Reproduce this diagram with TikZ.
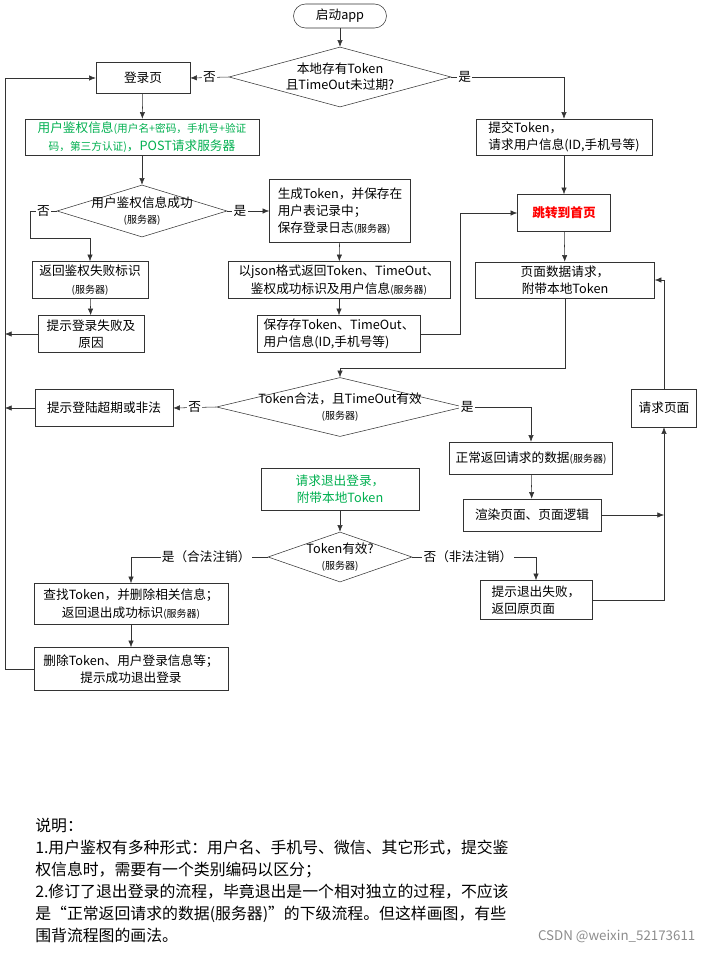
\documentclass[tikz,border=0pt]{standalone}
\usepackage{fontspec}
\setmainfont{Noto Sans CJK SC}
\usetikzlibrary{shapes.geometric,arrows.meta}
\newcommand{\fwq}{{\fontsize{7.5pt}{9pt}\selectfont(服务器)}}
\definecolor{okgreen}{RGB}{0,176,80}
\begin{document}
\begin{tikzpicture}[
  x=0.75pt, y=-0.75pt,
  font=\fontsize{9.5pt}{13pt}\selectfont,
  box/.style={draw=black!80, fill=white, align=center, inner sep=2pt},
  dec/.style={draw=black!80, diamond, inner sep=0pt},
  intext/.style={label={[align=center, font=\fontsize{9.5pt}{12pt}\selectfont]center:#1}},
  flow/.style={-{Latex[length=5pt,width=4pt]}, draw=black!80},
  line/.style={draw=black!80},
  lab/.style={fill=white, inner sep=1pt}
]
\useasboundingbox (0,0) rectangle (707,953);

%top part
\node[box, rounded corners=9pt, minimum width=93*.75pt, minimum height=24*.75pt] (start) at (340,16) {启动app};
\node[dec, minimum width=222*.75pt, minimum height=60*.75pt, intext={本地存有Token\\且TimeOut未过期?}] (local) at (340,77) {};
\node[box, minimum width=94*.75pt, minimum height=31*.75pt] (login) at (143,78) {登录页};
\node[box, text=okgreen, minimum width=234*.75pt, minimum height=36*.75pt] (auth) at (142,137) {用户鉴权信息{\fontsize{8pt}{10pt}\selectfont(用户名+密码，手机号+验证}\\{\fontsize{8pt}{10pt}\selectfont 码，第三方认证)}，POST请求服务器};
\node[dec, minimum width=170*.75pt, minimum height=52*.75pt, intext={用户鉴权信息成功\\\fwq}] (check) at (142,211) {};
\node[box, align=left, minimum width=141*.75pt, minimum height=63*.75pt] (gen) at (340,211) {生成Token，并保存在\\用户表记录中；\\保存登录日志\fwq};
\node[box, minimum width=116*.75pt, minimum height=37*.75pt] (fail) at (90,280) {返回鉴权失败标识\\\fwq};
\node[box, minimum width=222*.75pt, minimum height=37*.75pt] (json) at (339,280) {以json格式返回Token、TimeOut、\\鉴权成功标识及用户信息\fwq};
\node[box, minimum width=106*.75pt, minimum height=37*.75pt] (tipfail) at (91,334) {提示登录失败及\\原因};
\node[box, align=left, minimum width=163*.75pt, minimum height=37*.75pt] (save) at (339,334) {保存存Token、TimeOut、\\用户信息(ID,手机号等)};

%right part
\node[box, align=left, minimum width=176*.75pt, minimum height=36*.75pt] (submit) at (564,137) {提交Token，\\请求用户信息(ID,手机号等)};
\node[box, text=red, font=\fontsize{9.5pt}{13pt}\selectfont\bfseries, minimum width=93*.75pt, minimum height=37*.75pt] (home) at (564,213) {跳转到首页};
\node[box, minimum width=179*.75pt, minimum height=36*.75pt] (pagereq) at (565,280) {页面数据请求，\\附带本地Token};
\node[dec, minimum width=247*.75pt, minimum height=59*.75pt, intext={Token合法，且TimeOut有效\\\fwq}] (valid) at (340,407) {};
\node[box, minimum width=138*.75pt, minimum height=37*.75pt] (expire) at (104,408) {提示登陆超期或非法};
\node[box, minimum width=163*.75pt, minimum height=32*.75pt] (normal) at (531,458) {正常返回请求的数据\fwq};
\node[box, minimum width=138*.75pt, minimum height=32*.75pt] (render) at (532,515) {渲染页面、页面逻辑};
\node[box, minimum width=65*.75pt, minimum height=38*.75pt] (reqpage) at (664,408) {请求页面};

%logout
\node[box, text=okgreen, minimum width=158*.75pt, minimum height=42*.75pt] (logout) at (340,489) {请求退出登录，\\附带本地Token};
\node[dec, minimum width=144*.75pt, minimum height=50*.75pt, intext={Token有效?\\\fwq}] (tokok) at (340,557) {};
\node[box, minimum width=194*.75pt, minimum height=41*.75pt] (find) at (131,604) {查找Token，并删除相关信息；\\返回退出成功标识\fwq};
\node[box, minimum width=194*.75pt, minimum height=43*.75pt] (del) at (131,669) {删除Token、用户登录信息等；\\提示成功退出登录};
\node[box, align=left, minimum width=112*.75pt, minimum height=39*.75pt] (logfail) at (536,600) {提示退出失败，\\返回原页面};

\coordinate (lx) at (5,669);

%connectors
\draw[flow] (start) -- (local);
\draw[flow] (local.west) -- node[lab] {否} (login.east);
\draw[flow] (local.east) -- node[lab, pos=.12] {是} (564,77) -- (submit.north);
\draw[flow] (login) -- (auth);
\draw[flow] (auth) -- (check);
\draw[flow] (check.east) -- node[lab, pos=.3] {是} (gen.west);
\draw[flow] (check.west) -- node[lab, pos=.5] {否} (30,211) -- (30,238) -- (90,238) -- (fail.north);
\draw[flow] (fail) -- (tipfail);
\draw[flow] (gen) -- (json);
\draw[flow] (json) -- (save);
\draw[flow] (save.east) -- (460,334) -- (460,213) -- (home.west);
\draw[flow] (submit) -- (home);
\draw[flow] (home) -- (pagereq);
\draw[flow] (pagereq.south) -- (565,368) -- (340,368) -- (valid.north);
\draw[flow] (valid.west) -- node[lab] {否} (expire.east);
\draw[flow] (valid.east) -- node[lab, pos=.05] {是} (531,407) -- (normal.north);
\draw[flow] (normal) -- (render);
\draw[flow] (render.east) -- (664,515);
\draw[flow] (logfail.east) -- (664,600) -- (reqpage.south);
\draw[flow] (reqpage.north) -- (664,280) -- (pagereq.east);
\draw[flow] (logout) -- (tokok);
\draw[flow] (tokok.west) -- node[lab, pos=.45] {是（合法注销）} (131,557) -- (find.north);
\draw[flow] (tokok.east) -- node[lab, pos=.45] {否（非法注销）} (536,557) -- (logfail.north);
\draw[flow] (find) -- (del);
\draw[line] (del.west) -- (lx) -- (5,78);
\draw[flow] (5,78) -- (login.west);
\draw[flow] (tipfail.west) -- (5,334);
\draw[flow] (expire.west) -- (5,408);

%notes
\node[anchor=north west, align=left, inner sep=0pt, font=\fontsize{11.9pt}{16.5pt}\selectfont] (note) at (35,818)
{说明：\\1.用户鉴权有多种形式：用户名、手机号、微信、其它形式，提交鉴\\权信息时，需要有一个类别编码以区分；\\2.修订了退出登录的流程，毕竟退出是一个相对独立的过程，不应该\\是“正常返回请求的数据(服务器)”的下级流程。但这样画图，有些\\围背流程图的画法。};
\node[anchor=east, text=black!45, font=\fontsize{10pt}{12pt}\selectfont] (mark) at (700,936) {CSDN @weixin\_52173611};
\end{tikzpicture}
\end{document}
